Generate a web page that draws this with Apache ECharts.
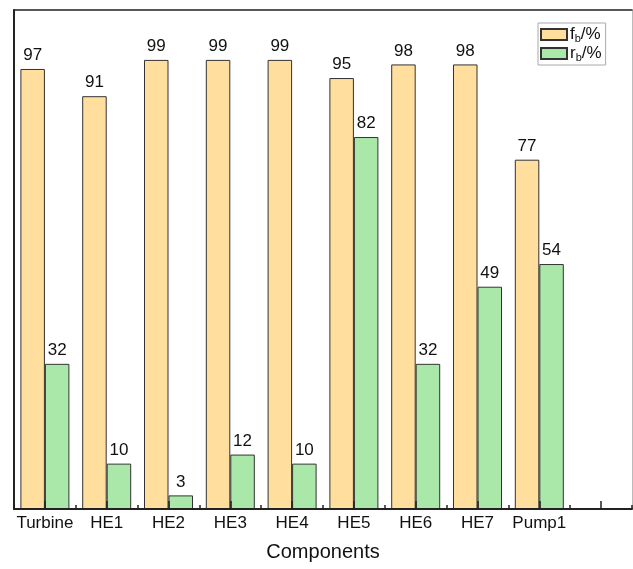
<!DOCTYPE html>
<html>
<head>
<meta charset="utf-8">
<title>Components</title>
<script src="https://cdn.jsdelivr.net/npm/echarts@6/dist/echarts.min.js"></script>
<style>
  html, body { margin: 0; padding: 0; background: #fff; }
  #chart { width: 633px; height: 569px; }
</style>
</head>
<body>
<div id="chart"></div>
<script>
// categories (last slot is empty on the original axis)
var categories = ['Turbine', 'HE1', 'HE2', 'HE3', 'HE4', 'HE5', 'HE6', 'HE7', 'Pump1', ''];
var fbValues = [97, 91, 99, 99, 99, 95, 98, 98, 77];
var rbValues = [32, 10, 3, 12, 10, 82, 32, 49, 54];

var FONT = 'Liberation Sans, Arial, Helvetica, sans-serif';
var chart = echarts.init(document.getElementById('chart'));

var labelStyle = {
  show: true,
  position: 'top',
  distance: 5,
  color: '#111',
  fontSize: 17,
  fontFamily: FONT
};

var option = {
  animation: false,
  grid: { left: 14, right: 1, top: 10, bottom: 60, outerBoundsMode: 'none' },
  legend: {
    orient: 'vertical',
    left: 538,
    top: 23,
    padding: [2, 4, 2, 2],
    icon: 'rect',
    itemWidth: 26,
    itemHeight: 11,
    itemGap: 0,
    borderColor: '#aaa',
    borderWidth: 1,
    backgroundColor: '#fff',
    data: ['fb', 'rb'],
    formatter: function (name) {
      return name === 'fb' ? '{a|f}{s|b}{a|/%}' : '{a|r}{s|b}{a|/%}';
    },
    textStyle: {
      padding: [0, 0, 0, -2],
      rich: {
        a: { fontSize: 17, lineHeight: 15, fontFamily: FONT, color: '#111' },
        s: { fontSize: 11, lineHeight: 9, fontFamily: FONT, color: '#111', padding: [8, 0, 0, 0] }
      }
    }
  },
  xAxis: [
    {
      type: 'category',
      position: 'bottom',
      z: 10,
      data: categories,
      name: 'Components',
      nameLocation: 'middle',
      nameGap: 33,
      nameTextStyle: { fontSize: 20, fontFamily: FONT, color: '#111' },
      axisLine: { show: true, lineStyle: { color: '#222', width: 2 } },
      axisTick: { show: true, alignWithLabel: true, inside: true, length: 8, lineStyle: { color: '#222', width: 1.5 } },
      axisLabel: { interval: 0, fontSize: 17, fontFamily: FONT, color: '#111', margin: 6 },
      splitLine: { show: false }
    },
    {
      type: 'category',
      position: 'bottom',
      z: 10,
      data: categories,
      axisLine: { show: false },
      axisTick: { show: true, interval: 0, inside: true, length: 4, lineStyle: { color: '#222', width: 1.5 } },
      axisLabel: { show: false },
      splitLine: { show: false }
    },
    {
      type: 'category',
      position: 'top',
      data: categories,
      axisLine: { show: true, lineStyle: { color: '#222', width: 1.5 } },
      axisTick: { show: false },
      axisLabel: { show: false }
    }
  ],
  yAxis: [
    {
      type: 'value',
      position: 'left',
      min: 0,
      max: 110,
      axisLine: { show: true, lineStyle: { color: '#222', width: 2 } },
      axisTick: { show: false },
      axisLabel: { show: false },
      splitLine: { show: false }
    },
    {
      type: 'value',
      position: 'right',
      min: 0,
      max: 110,
      axisLine: { show: true, lineStyle: { color: '#bbb', width: 1 } },
      axisTick: { show: false },
      axisLabel: { show: false },
      splitLine: { show: false }
    }
  ],
  series: [
    {
      name: 'fb',
      type: 'bar',
      xAxisIndex: 0,
      yAxisIndex: 0,
      barWidth: 24.5,
      barGap: '0%',
      data: fbValues,
      itemStyle: { color: '#FFDE9E', borderColor: '#333', borderWidth: 1 },
      label: labelStyle
    },
    {
      name: 'rb',
      type: 'bar',
      xAxisIndex: 0,
      yAxisIndex: 0,
      barWidth: 24.5,
      barGap: '0%',
      data: rbValues,
      itemStyle: { color: '#A9E8A8', borderColor: '#333', borderWidth: 1 },
      label: labelStyle
    }
  ]
};

chart.setOption(option);
</script>
</body>
</html>
